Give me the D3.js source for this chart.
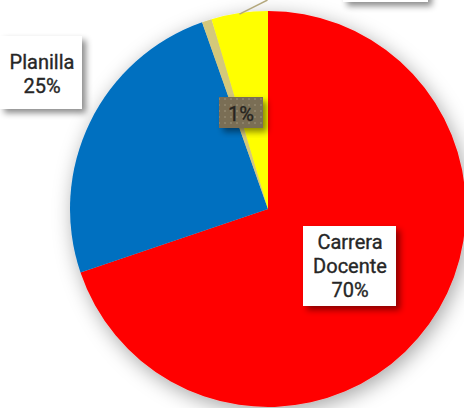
<!DOCTYPE html>
<html><head><meta charset="utf-8">
<script src="https://cdn.jsdelivr.net/npm/d3@7"></script>
<style>html,body{margin:0;padding:0;background:#fff;overflow:hidden}</style>
</head><body>
<svg id="c" width="464" height="408"></svg>
<script>
const categories = ["Carrera Docente", "Planilla", "Otros", "Interinos"];
const values = [69.8, 24.8, 0.8, 4.6];
const labels = ["Carrera\nDocente\n70%", "Planilla\n25%", "1%", ""];
const colors = ["#FF0000", "#0070C0", "#D4C87A", "#FFFF00"];

const svg = d3.select("#c");
const defs = svg.append("defs");
const f1 = defs.append("filter").attr("id","pieShadow").attr("x","-30%").attr("y","-30%").attr("width","160%").attr("height","160%");
f1.append("feDropShadow").attr("dx",3).attr("dy",5).attr("stdDeviation",10).attr("flood-color","#000").attr("flood-opacity",0.35);
const f2 = defs.append("filter").attr("id","boxShadow").attr("x","-30%").attr("y","-30%").attr("width","160%").attr("height","160%");
f2.append("feDropShadow").attr("dx",4).attr("dy",4).attr("stdDeviation",3).attr("flood-color","#000").attr("flood-opacity",0.45);
const pat = defs.append("pattern").attr("id","dots").attr("width",6).attr("height",6).attr("patternUnits","userSpaceOnUse");
pat.append("rect").attr("width",6).attr("height",6).attr("fill","#7A6E54");
pat.append("rect").attr("x",2).attr("y",2).attr("width",2).attr("height",2).attr("fill","#8C8168");

const cx = 268, cy = 209, R = 198;
const pie = d3.pie().sort(null).value(d => d);
const arcs = pie(values);
const arc = d3.arc().innerRadius(0).outerRadius(R);

const g = svg.append("g").attr("transform",`translate(${cx},${cy})`);
g.append("g").attr("filter","url(#pieShadow)")
  .selectAll("path").data(arcs).join("path")
  .attr("d", arc).attr("fill", (d,i) => colors[i]);

// leader line for the last slice
const a3 = arcs[3];
const mid = (a3.startAngle + a3.endAngle)/2;
const p0 = [Math.sin(mid)*R, -Math.cos(mid)*R];
svg.append("line")
  .attr("x1", cx + p0[0]).attr("y1", cy + p0[1] + 1)
  .attr("x2", cx + p0[0] + 28).attr("y2", cy + p0[1] - 13)
  .attr("stroke", "#B3A77C").attr("stroke-width", 1.5);

const boxes = [
  {x:303, y:226, w:93, h:80, fill:"#fff", tx:350, ty:249, i:0},
  {x:0, y:36, w:82, h:73, fill:"#fff", tx:42, ty:69, i:1},
  {x:219, y:97, w:44, h:31, fill:"url(#dots)", tx:241, ty:121, i:2},
  {x:343, y:-60, w:85, h:62, fill:"#fff", tx:385, ty:-35, i:3}
];
boxes.forEach(b => {
  svg.append("rect").attr("x",b.x).attr("y",b.y).attr("width",b.w).attr("height",b.h)
    .attr("fill",b.fill).attr("filter","url(#boxShadow)");
  if (!labels[b.i]) return;
  const t = svg.append("text").attr("x",b.tx).attr("y",b.ty)
    .attr("text-anchor","middle").attr("font-family","Roboto, Liberation Sans, sans-serif")
    .attr("font-weight",400)
    .attr("font-size",20).attr("fill", b.i===2 ? "#26241f" : "#262626")
    .attr("stroke", b.i===2 ? "#26241f" : "#262626").attr("stroke-width",0.35);
  labels[b.i].split("\n").forEach((s,k) => {
    t.append("tspan").attr("x",b.tx).attr("dy", k===0 ? 0 : 24).text(s);
  });
});
</script>
</body></html>
